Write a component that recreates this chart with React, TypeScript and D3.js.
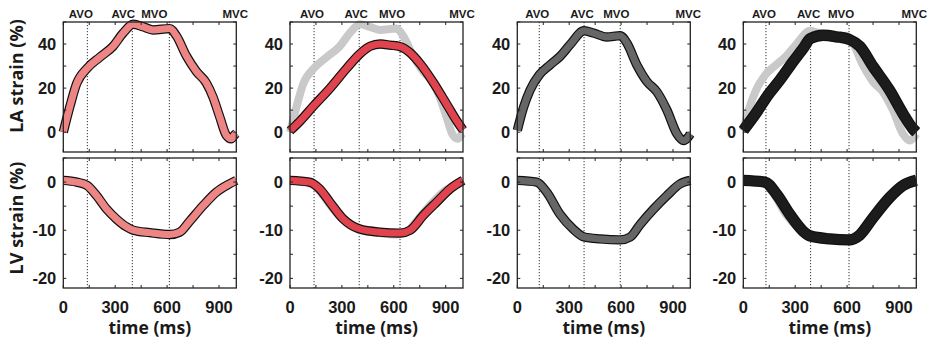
import React from "react";
import * as d3 from "d3";

// ---------- DATA ----------
const timeDomain = [0, 1000];
const xTickValues = [0, 150, 300, 450, 600, 750, 900];
const xTickLabels = [0, 300, 600, 900];
const laTickValues = [0, 10, 20, 30, 40, 50];
const laTickLabels = [0, 20, 40];
const lvTickValues = [-20, -15, -10, -5, 0, 5];
const lvTickLabels = [-20, -10, 0];
const eventNames = ["AVO", "AVC", "MVO", "MVC"];

// event times (ms) per panel
const events1 = [139, 399, 613, 1000];
const events2 = [139, 400, 636, 1000];
const events3 = [127, 386, 595, 1000];
const events4 = [131, 389, 611, 1000];

// LA strain curves [time ms, strain %]
const la1: [number, number][] = [
  [0, 0], [38, 11.6], [77, 22], [138, 29], [211, 34], [288, 39], [346, 45], [404, 49],
  [462, 47.8], [519, 46.4], [615, 47], [654, 43.7], [712, 34.5], [769, 27.6], [827, 22.3],
  [865, 16], [904, 7], [942, -1.4], [971, -3], [990, -1.2], [1000, -0.5],
];
const la2: [number, number][] = [
  [0, 0.6], [58, 5], [135, 11.8], [232, 20], [328, 29], [402, 35.4], [463, 39], [521, 40],
  [579, 39.5], [637, 38.8], [695, 36], [753, 31], [830, 22.4], [907, 12.5], [965, 5], [1000, 1],
];
const la3: [number, number][] = [
  [0, 0.8], [35, 11], [73, 19], [127, 26], [189, 30.5], [247, 34.4], [305, 39.7], [386, 46],
  [440, 45], [517, 43.2], [595, 43.8], [633, 40.5], [691, 30.5], [749, 23], [807, 18.3],
  [865, 10], [923, -0.8], [961, -3.8], [985, -2.5], [1000, -0.8],
];
const la4: [number, number][] = [
  [0, 0.8], [77, 9], [135, 16], [212, 23.7], [288, 32], [346, 38], [388, 42.5], [462, 44],
  [538, 43.3], [615, 42], [673, 39], [750, 29.8], [846, 19], [923, 8.4], [981, 1.5], [1000, 0],
];

// LV strain curves [time ms, strain %]
const lv1: [number, number][] = [
  [0, 0.35], [77, 0], [138, -0.7], [192, -2.8], [250, -5.6], [308, -7.7], [365, -9.3],
  [404, -10], [500, -10.5], [615, -10.9], [673, -10.4], [731, -8.1], [808, -4.9],
  [885, -2.1], [962, -0.35], [1000, 0.35],
];
const lv2: [number, number][] = [
  [0, 0.35], [112, 0], [171, -1.4], [229, -4.1], [306, -7.6], [399, -9.7], [519, -10.4],
  [636, -10.6], [694, -10], [771, -6.9], [849, -4.1], [926, -1.4], [1000, 0.35],
];
const lv3: [number, number][] = [
  [0, 0.35], [112, 0], [170, -2.1], [247, -6.7], [324, -9.8], [386, -11.4], [479, -11.8],
  [595, -12], [653, -11.4], [710, -8.8], [788, -5.6], [865, -2.8], [942, -0.35], [1000, 0.35],
];
const lv4: [number, number][] = [
  [0, 0.35], [125, 0], [192, -2.5], [269, -6.7], [346, -10.2], [388, -11.2], [500, -11.8],
  [612, -12], [673, -11], [750, -7.4], [846, -3.2], [923, -0.7], [1000, 0.35],
];

// ---------- LAYOUT / STYLE ----------
const W = 931;
const H = 341;
const panelLefts = [63.3, 290, 517.3, 743.3];
const panelWidth = 173;
const topBox = [22, 152];
const botBox = [158, 288];
const labelOffsets = [
  [-6.5, -9, -15, -1],
  [-2, -3, -8, -1],
  [-2, -2, -4, -2],
  [-2, -2, -8, -2],
];

type Panel = {
  la: [number, number][];
  lv: [number, number][];
  laRef?: [number, number][];
  lvRef?: [number, number][];
  events: number[];
  color: string;
  width: number;
};

const panels: Panel[] = [
  { la: la1, lv: lv1, events: events1, color: "#EE8585", width: 7 },
  { la: la2, lv: lv2, laRef: la1, lvRef: lv1, events: events2, color: "#E0434E", width: 7 },
  { la: la3, lv: lv3, events: events3, color: "#666666", width: 7 },
  { la: la4, lv: lv4, laRef: la3, lvRef: lv3, events: events4, color: "#1C1C1C", width: 9 },
];

const tickFont = "'Liberation Sans', Arial, sans-serif";
const titleFont = "'Open Sans', 'Noto Sans', sans-serif";

function Axes({
  x,
  y,
  yTicks,
  yLabels,
  showX,
  events,
  showEvents,
  offsets,
  data,
  ref0,
  color,
  width,
}: any) {
  const [x0, x1] = x.range();
  const [yb, yt] = y.range();
  const line = d3
    .line<[number, number]>()
    .x((d) => x(d[0]))
    .y((d) => y(d[1]))
    .curve(d3.curveMonotoneX);
  const tl = 3;
  return (
    <g>
      <rect x={x0} y={yt} width={x1 - x0} height={yb - yt} fill="#fff" />
      {events.slice(0, 3).map((e: number, i: number) => (
        <line
          key={"ev" + i}
          x1={x(e)}
          x2={x(e)}
          y1={yt}
          y2={yb}
          stroke="#333"
          strokeWidth={1}
          strokeDasharray="1.2,1.8"
        />
      ))}
      {ref0 && (
        <path d={line(ref0) || ""} fill="none" stroke="#C9C9C9" strokeWidth={8} />
      )}
      <path d={line(data) || ""} fill="none" stroke="#111" strokeWidth={width + 2.4} />
      <path d={line(data) || ""} fill="none" stroke={color} strokeWidth={width} />
      {xTickValues.map((t) => (
        <g key={"xt" + t}>
          <line x1={x(t)} x2={x(t)} y1={yb} y2={yb - tl} stroke="#222" />
          <line x1={x(t)} x2={x(t)} y1={yt} y2={yt + tl} stroke="#222" />
        </g>
      ))}
      {yTicks.map((v: number) => (
        <g key={"yt" + v}>
          <line x1={x0} x2={x0 + tl} y1={y(v)} y2={y(v)} stroke="#222" />
          <line x1={x1} x2={x1 - tl} y1={y(v)} y2={y(v)} stroke="#222" />
        </g>
      ))}
      <rect
        x={x0}
        y={yt}
        width={x1 - x0}
        height={yb - yt}
        fill="none"
        stroke="#222"
        strokeWidth={1.3}
      />
      {yLabels.map((v: number) => (
        <text
          key={"yl" + v}
          x={x0 - 7}
          y={y(v)}
          dy="0.36em"
          textAnchor="end"
          fontFamily={tickFont}
          fontWeight="bold"
          fontSize={16.5}
          fill="#1a1a1a"
        >
          {v}
        </text>
      ))}
      {showX &&
        xTickLabels.map((t) => (
          <text
            key={"xl" + t}
            x={x(t)}
            y={313}
            textAnchor="middle"
            fontFamily={tickFont}
            fontWeight="bold"
            fontSize={16.5}
            fill="#1a1a1a"
          >
            {t}
          </text>
        ))}
      {showX && (
        <text
          x={(x0 + x1) / 2}
          y={334}
          textAnchor="middle"
          fontFamily={titleFont}
          fontWeight="bold"
          fontSize={17.5}
          fill="#1a1a1a"
        >
          time (ms)
        </text>
      )}
      {showEvents &&
        events.map((e: number, i: number) => (
          <text
            key={"en" + i}
            x={x(e) + offsets[i]}
            y={17.5}
            textAnchor="middle"
            fontFamily={tickFont}
            fontWeight="bold"
            fontSize={11.5}
            fill="#1a1a1a"
          >
            {eventNames[i]}
          </text>
        ))}
    </g>
  );
}

export default function App() {
  return (
    <svg
      width={W}
      height={H}
      style={{ position: "absolute", left: 0, top: 0, background: "#fff" }}
    >
      <rect width={W} height={H} fill="#fff" />
      {panels.map((p, i) => {
        const x = d3
          .scaleLinear()
          .domain(timeDomain)
          .range([panelLefts[i], panelLefts[i] + panelWidth]);
        const yLA = d3.scaleLinear().domain([-9, 50]).range([topBox[1], topBox[0]]);
        const yLV = d3.scaleLinear().domain([-22, 5]).range([botBox[1], botBox[0]]);
        return (
          <g key={i}>
            <Axes
              x={x}
              y={yLA}
              yTicks={laTickValues}
              yLabels={laTickLabels}
              showX={false}
              events={p.events}
              showEvents={true}
              offsets={labelOffsets[i]}
              data={p.la}
              ref0={p.laRef}
              color={p.color}
              width={p.width}
            />
            <Axes
              x={x}
              y={yLV}
              yTicks={lvTickValues}
              yLabels={lvTickLabels}
              showX={true}
              events={p.events}
              showEvents={false}
              offsets={labelOffsets[i]}
              data={p.lv}
              ref0={p.lvRef}
              color={p.color}
              width={p.width}
            />
          </g>
        );
      })}
      <text
        transform="translate(23,76) rotate(-90)"
        textAnchor="middle"
        fontFamily={titleFont}
        fontWeight="bold"
        fontSize={18}
        fill="#1a1a1a"
      >
        LA strain (%)
      </text>
      <text
        transform="translate(23,218) rotate(-90)"
        textAnchor="middle"
        fontFamily={titleFont}
        fontWeight="bold"
        fontSize={18}
        fill="#1a1a1a"
      >
        LV strain (%)
      </text>
    </svg>
  );
}
